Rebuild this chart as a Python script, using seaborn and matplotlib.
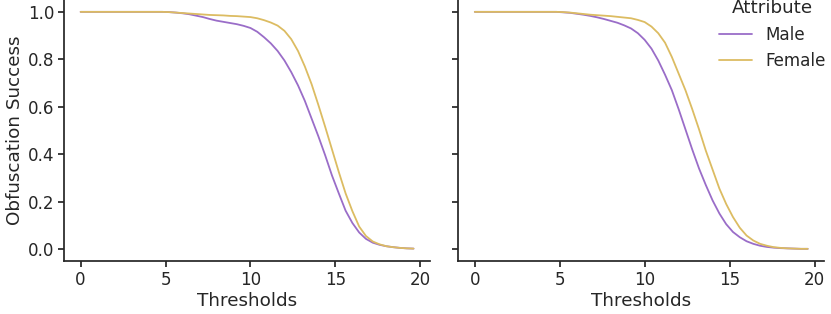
import numpy as np
import pandas as pd
import seaborn as sns
import matplotlib.pyplot as plt

thresholds = [round(0.4 * i, 1) for i in range(50)]

left_male = [1.0] * 13 + [
    0.999, 0.997, 0.994, 0.99, 0.984, 0.978, 0.97, 0.963, 0.958, 0.953, 0.948, 0.941,
    0.932, 0.916, 0.893, 0.867, 0.835, 0.795, 0.746, 0.69, 0.625, 0.55, 0.475, 0.395,
    0.31, 0.235, 0.162, 0.11, 0.07, 0.043, 0.027, 0.018, 0.012, 0.008, 0.005, 0.003, 0.002]
left_female = [1.0] * 13 + [
    0.999, 0.997, 0.995, 0.993, 0.991, 0.989, 0.987, 0.986, 0.985, 0.983, 0.982, 0.98,
    0.978, 0.973, 0.965, 0.955, 0.942, 0.92, 0.885, 0.835, 0.77, 0.695, 0.607, 0.515,
    0.42, 0.325, 0.235, 0.16, 0.095, 0.055, 0.032, 0.02, 0.012, 0.008, 0.005, 0.003, 0.002]
right_male = [1.0] * 13 + [
    0.998, 0.996, 0.992, 0.988, 0.983, 0.977, 0.97, 0.962, 0.954, 0.943, 0.93, 0.91,
    0.882, 0.845, 0.795, 0.735, 0.67, 0.59, 0.505, 0.42, 0.34, 0.27, 0.205, 0.15,
    0.105, 0.072, 0.05, 0.033, 0.022, 0.014, 0.009, 0.006, 0.004, 0.003, 0.002, 0.001, 0.001]
right_female = [1.0] * 13 + [
    0.999, 0.997, 0.994, 0.991, 0.988, 0.986, 0.984, 0.982, 0.979, 0.976, 0.973, 0.966,
    0.957, 0.938, 0.91, 0.87, 0.81, 0.74, 0.67, 0.59, 0.505, 0.415, 0.335, 0.255,
    0.19, 0.135, 0.09, 0.057, 0.036, 0.022, 0.014, 0.008, 0.005, 0.003, 0.002, 0.001, 0.001]

attributes = ["Male", "Female"]
colors = {"Male": "#9a6dc8", "Female": "#dcbc62"}


def make_df(male, female):
    n = len(thresholds)
    return pd.DataFrame({
        "Thresholds": thresholds * 2,
        "Obfuscation Success": male + female,
        "Attribute": ["Male"] * n + ["Female"] * n,
    })


sns.set_theme(style="ticks", context="notebook", font_scale=1.1)
plt.rcParams.update({
    "xtick.major.size": 4.5, "ytick.major.size": 4.5,
    "xtick.major.pad": 2.5, "ytick.major.pad": 2.5,
    "axes.labelpad": 2.5,
})

fig, axes = plt.subplots(1, 2, sharey=True, figsize=(8.31, 3.14), dpi=100)
fig.subplots_adjust(left=0.077, right=0.992, bottom=0.169, top=1.0, wspace=0.0765)

sns.lineplot(data=make_df(left_male, left_female), x="Thresholds", y="Obfuscation Success",
             hue="Attribute", hue_order=attributes, palette=colors, ax=axes[0],
             legend=False, linewidth=1.3)
sns.lineplot(data=make_df(right_male, right_female), x="Thresholds", y="Obfuscation Success",
             hue="Attribute", hue_order=attributes, palette=colors, ax=axes[1],
             linewidth=1.3)

axes[1].set_ylabel("")
axes[0].set_xticks([0, 5, 10, 15, 20])
axes[1].set_xticks([0, 5, 10, 15, 20])
axes[0].set_ylim(-0.05, 1.05)
axes[0].set_yticks([0.0, 0.2, 0.4, 0.6, 0.8, 1.0])

leg = axes[1].legend(title="Attribute", loc="upper left", bbox_to_anchor=(0.67, 1.06),
                     frameon=False, fontsize=12.1, title_fontsize=13.2)

sns.despine()
fig.savefig("out.png", dpi=100)
